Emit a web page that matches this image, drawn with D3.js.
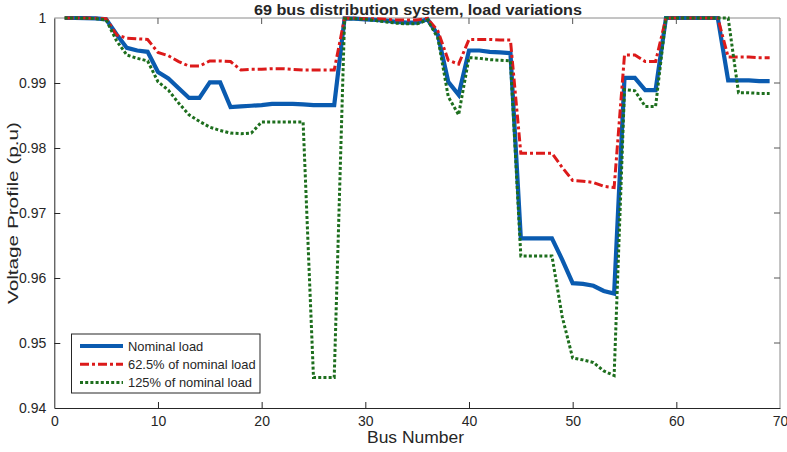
<!DOCTYPE html>
<html>
<head>
<meta charset="utf-8">
<script src="https://cdn.jsdelivr.net/npm/d3@7"></script>
<style>
  html, body { margin: 0; padding: 0; background: #fff; }
  svg { display: block; }
  text { font-family: "Liberation Sans", Arial, Helvetica, sans-serif; fill: #262626; }
</style>
</head>
<body>
<svg id="chart" width="787" height="452"></svg>
<script>
const buses = d3.range(1, 70);

const nominal = [
  1.0000, 1.0000, 0.99997, 0.99993, 0.9998, 0.9975, 0.9954, 0.9950, 0.9948, 0.9917,
  0.9907, 0.9892, 0.9877, 0.9877, 0.9901, 0.9901, 0.9863, 0.9864, 0.9865, 0.9866,
  0.9868, 0.9868, 0.9868, 0.9867, 0.9866, 0.9866, 0.9866, 0.99995, 0.9999, 0.9998,
  0.9997, 0.9996, 0.9994, 0.9993, 0.9993, 0.9998, 0.9974, 0.9902, 0.9882, 0.9950,
  0.9950, 0.9948, 0.9947, 0.9946, 0.9661, 0.9661, 0.9661, 0.9661, 0.9628, 0.9592,
  0.9591, 0.9588, 0.9580, 0.9576, 0.9908, 0.9908, 0.9889, 0.9889, 1.0000, 1.0000,
  1.0000, 1.0000, 1.0000, 1.0000, 0.9904, 0.9904, 0.9904, 0.9903, 0.9903
];

const light = [
  1.0000, 1.0000, 0.99999, 0.99997, 0.9999, 0.9974, 0.9969, 0.9968, 0.9967, 0.9947,
  0.9942, 0.9933, 0.9926, 0.9926, 0.9934, 0.9934, 0.9933, 0.9920, 0.9921, 0.9921,
  0.9922, 0.9922, 0.9921, 0.9920, 0.9920, 0.9920, 0.9920, 0.99998, 0.99996, 0.9999,
  0.9999, 0.9998, 0.9997, 0.9997, 0.9997, 0.99993, 0.9980, 0.9935, 0.9929, 0.9967,
  0.9967, 0.9967, 0.9966, 0.9966, 0.9792, 0.9792, 0.9792, 0.9792, 0.9770, 0.9750,
  0.9749, 0.9747, 0.9741, 0.9739, 0.9943, 0.9943, 0.9933, 0.9933, 1.0000, 1.0000,
  1.0000, 1.0000, 1.0000, 1.0000, 0.9940, 0.9940, 0.9940, 0.9939, 0.9939
];

const heavy = [
  1.0000, 1.0000, 0.99996, 0.9999, 0.9997, 0.9965, 0.9943, 0.9938, 0.9934, 0.9902,
  0.9889, 0.9869, 0.9851, 0.9841, 0.9832, 0.9827, 0.9823, 0.9822, 0.9823, 0.9840,
  0.9840, 0.9840, 0.9840, 0.9840, 0.9447, 0.9447, 0.9447, 0.9999, 0.9999, 0.9998,
  0.9996, 0.9994, 0.9992, 0.9991, 0.9991, 0.9997, 0.9969, 0.9879, 0.9851, 0.9939,
  0.9938, 0.9936, 0.9935, 0.9934, 0.9634, 0.9634, 0.9634, 0.9634, 0.9540, 0.9477,
  0.9474, 0.9470, 0.9457, 0.9450, 0.9890, 0.9888, 0.9864, 0.9864, 1.0000, 1.0000,
  1.0000, 1.0000, 1.0000, 1.0000, 1.0000, 0.9885, 0.9885, 0.9884, 0.9884
];

const seriesNames = ["Nominal load", "62.5% of nominal load", "125% of nominal load"];
const xTicks = [0, 10, 20, 30, 40, 50, 60, 70];
const yTicks = [0.94, 0.95, 0.96, 0.97, 0.98, 0.99, 1];
const yTickLabels = ["0.94", "0.95", "0.96", "0.97", "0.98", "0.99", "1"];

const W = 787, H = 452;
const m = { left: 54.3, right: 787 - 780, top: 18, bottom: 452 - 408 };
const svg = d3.select("#chart");

const x = d3.scaleLinear().domain([0, 70]).range([m.left, W - m.right]);
const y = d3.scaleLinear().domain([0.94, 1]).range([H - m.bottom, m.top]);

const styles = [
  { color: "#0a5bb0", width: 4.2, dash: null },
  { color: "#dc1a1a", width: 3, dash: "9,3,3,3" },
  { color: "#1d6e1d", width: 3, dash: "3,2.2" }
];
const data = [nominal, light, heavy];

// box: top & right
svg.append("line").attr("x1", x(0)).attr("x2", x(70)).attr("y1", y(1)).attr("y2", y(1))
  .attr("stroke", "#8a8a8a").attr("stroke-width", 1);
svg.append("line").attr("x1", x(70)).attr("x2", x(70)).attr("y1", y(1)).attr("y2", y(0.94))
  .attr("stroke", "#8a8a8a").attr("stroke-width", 1);

// mirrored ticks
const tl = 6;
svg.append("g").selectAll("line").data(xTicks.slice(1, -1)).join("line")
  .attr("x1", d => x(d)).attr("x2", d => x(d))
  .attr("y1", y(1)).attr("y2", y(1) + tl).attr("stroke", "#555").attr("stroke-width", 1);
svg.append("g").selectAll("line").data(yTicks.slice(1, -1)).join("line")
  .attr("x1", x(70)).attr("x2", x(70) - tl)
  .attr("y1", d => y(d)).attr("y2", d => y(d)).attr("stroke", "#555").attr("stroke-width", 1);

// axes
const xAxis = d3.axisBottom(x).tickValues(xTicks).tickSizeInner(-tl).tickSizeOuter(0).tickPadding(8)
  .tickFormat(d3.format("d"));
const gx = svg.append("g").attr("transform", `translate(0,${y(0.94)})`).call(xAxis);
gx.selectAll(".tick line").filter(d => d === 0 || d === 70).remove();
gx.select(".domain").attr("stroke", "#262626");
gx.selectAll(".tick line").attr("stroke", "#262626");
gx.selectAll("text").attr("font-size", 14).attr("fill", "#262626")
  .attr("font-family", "Liberation Sans, Arial, sans-serif");

const yAxis = d3.axisLeft(y).tickValues(yTicks).tickSizeInner(-tl).tickSizeOuter(0).tickPadding(8)
  .tickFormat((d, i) => yTickLabels[i]);
const gy = svg.append("g").attr("transform", `translate(${x(0)},0)`).call(yAxis);
gy.selectAll(".tick line").filter(d => d === 0.94 || d === 1).remove();
gy.select(".domain").attr("stroke", "#262626");
gy.selectAll(".tick line").attr("stroke", "#262626");
gy.selectAll("text").attr("font-size", 14).attr("fill", "#262626")
  .attr("font-family", "Liberation Sans, Arial, sans-serif");

// lines
const line = d3.line().x((d, i) => x(buses[i])).y(d => y(d));
data.forEach((vals, k) => {
  const p = svg.append("path").datum(vals).attr("d", line)
    .attr("fill", "none").attr("stroke", styles[k].color)
    .attr("stroke-width", styles[k].width).attr("stroke-linejoin", "miter");
  if (styles[k].dash) p.attr("stroke-dasharray", styles[k].dash);
});

// title & labels
svg.append("text").attr("x", 418).attr("y", 14.5)
  .attr("text-anchor", "middle").attr("font-size", 14.5).attr("font-weight", "bold")
  .attr("fill", "#000").attr("textLength", 328).attr("lengthAdjust", "spacingAndGlyphs")
  .text("69 bus distribution system, load variations");
svg.append("text").attr("x", 415.5).attr("y", 443)
  .attr("text-anchor", "middle").attr("font-size", 16)
  .attr("textLength", 97).attr("lengthAdjust", "spacingAndGlyphs").text("Bus Number");
svg.append("text").attr("transform", `translate(18,${(y(1) + y(0.94)) / 2}) rotate(-90)`)
  .attr("text-anchor", "middle").attr("font-size", 15.5)
  .attr("textLength", 182).attr("lengthAdjust", "spacingAndGlyphs").text("Voltage Profile (p.u)");

// legend
const lg = svg.append("g");
lg.append("rect").attr("x", 71.5).attr("y", 334).attr("width", 188.5).attr("height", 59)
  .attr("fill", "#fff").attr("stroke", "#262626").attr("stroke-width", 1);
seriesNames.forEach((name, i) => {
  const yy = 346 + i * 18.3;
  const l = lg.append("line").attr("x1", 80).attr("x2", 123).attr("y1", yy).attr("y2", yy)
    .attr("stroke", styles[i].color).attr("stroke-width", styles[i].width);
  if (styles[i].dash) l.attr("stroke-dasharray", styles[i].dash);
  lg.append("text").attr("x", 128).attr("y", yy + 4.5).attr("font-size", 12.9).text(name);
});
</script>
</body>
</html>
